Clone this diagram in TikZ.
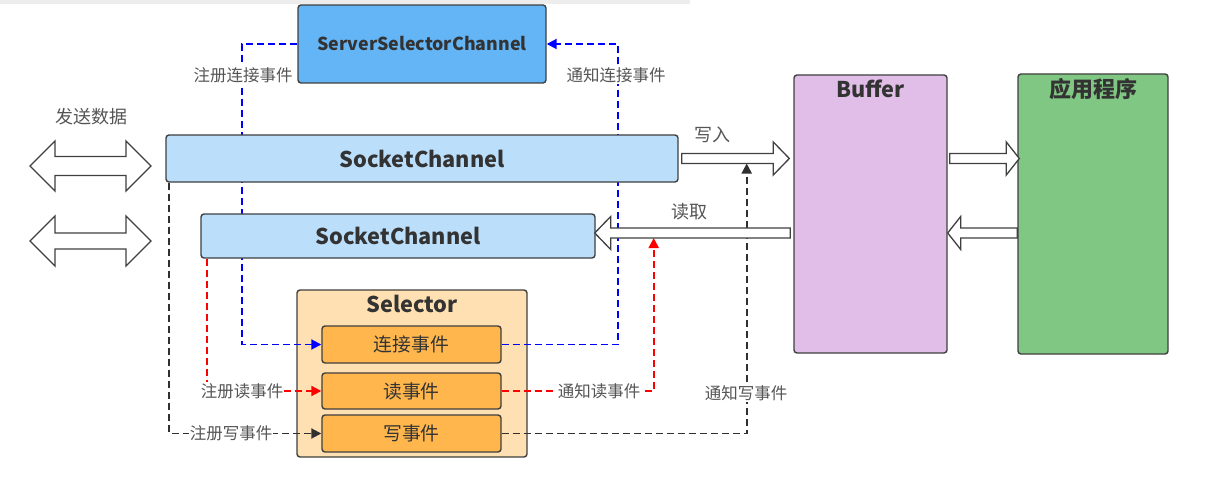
\documentclass[tikz,border=0pt]{standalone}
\usepackage{fontspec}
\setmainfont{Noto Sans CJK SC}
\usetikzlibrary{calc,arrows.meta,backgrounds}
\definecolor{edge}{HTML}{404040}
\definecolor{txt}{HTML}{333333}
\definecolor{lbl}{HTML}{555555}
\definecolor{sscfill}{HTML}{64B5F6}
\definecolor{scfill}{HTML}{BBDEFB}
\definecolor{selfill}{HTML}{FFE0B2}
\definecolor{evfill}{HTML}{FFB74D}
\definecolor{buffill}{HTML}{E1BEE7}
\definecolor{appfill}{HTML}{81C784}
\definecolor{dblue}{HTML}{0000FF}
\definecolor{dred}{HTML}{FF0000}
\definecolor{dblack}{HTML}{303030}
\tikzset{
  box/.style={draw=edge, line width=1.4pt, rounded corners=3pt, inner sep=0pt, text=txt},
  bigtxt/.style={font=\fontsize{21.7}{24}\selectfont\bfseries, text=txt},
  evtxt/.style={font=\fontsize{18.8}{21}\selectfont, text=txt},
  lab/.style={font=\fontsize{16.5}{19}\selectfont, text=lbl, fill=white, inner sep=1pt},
  labnf/.style={font=\fontsize{18}{21}\selectfont, text=lbl, inner sep=1pt},
  conn/.style={dashed, dash pattern=on 7pt off 4pt, line width=1.9pt, -{Triangle[length=10pt,width=10pt]}},
  blk/.style={draw=edge, fill=white, line width=1.3pt, line join=miter},
}
% #1 start, #2 tip, #3 signed head length, #4 shaft half width, #5 head half width
\newcommand\hblk[5]{%
  \draw[blk] ($(#1)+(0,-#4)$) -- ($(#2)+(#3,-#4)$) -- ($(#2)+(#3,-#5)$) -- (#2)
     -- ($(#2)+(#3,#5)$) -- ($(#2)+(#3,#4)$) -- ($(#1)+(0,#4)$) -- cycle;}
% double arrow: #1 center y, #2 shaft half width
\newcommand\dblarrow[2]{%
  \draw[blk] (30,#1) -- (55,#1-25) -- (55,#1-#2) -- (126,#1-#2) -- (126,#1-25) -- (151,#1)
     -- (126,#1+25) -- (126,#1+#2) -- (55,#1+#2) -- (55,#1+25) -- cycle;}
\begin{document}
\begin{tikzpicture}[x=1pt,y=-1pt]
\useasboundingbox (0,0) rectangle (1210,492);

% boxes
\node[box, fill=sscfill, minimum width=248pt, minimum height=78pt] (ssc) at (422,44) {};
\node[bigtxt, font=\fontsize{17.8}{21}\selectfont\bfseries] (ssct) at (ssc.center) {ServerSelectorChannel};
\node[box, fill=scfill, minimum width=512pt, minimum height=47pt] (sc1) at (422,158.5) {};
\node[bigtxt] (sc1t) at (sc1.center) {SocketChannel};
\node[box, fill=scfill, minimum width=394pt, minimum height=44pt] (sc2) at (398,236) {};
\node[bigtxt] (sc2t) at (sc2.center) {SocketChannel};
\node[box, fill=evfill, minimum width=179pt, minimum height=37pt] (ev1) at (411.5,344.5) {};
\node[evtxt] (ev1t) at (ev1.center) {连接事件};
\node[box, fill=evfill, minimum width=179pt, minimum height=36pt] (ev2) at (411.5,391) {};
\node[evtxt] (ev2t) at (ev2.center) {读事件};
\node[box, fill=evfill, minimum width=179pt, minimum height=37pt] (ev3) at (411.5,433.5) {};
\node[evtxt] (ev3t) at (ev3.center) {写事件};
\node[box, fill=buffill, minimum width=153pt, minimum height=278pt] (buf) at (870.5,214) {};
\node[bigtxt] (buft) at (870.5,89) {Buffer};
\node[box, fill=appfill, minimum width=150pt, minimum height=280pt] (app) at (1093,214) {};
\node[bigtxt, font=\fontsize{22}{25}\selectfont\bfseries] (appt) at (1093,89) {应用程序};

% background, selector container and dashed connectors (behind channel boxes)
\begin{scope}[on background layer]
\fill[white] (0,0) rectangle (1210,492);
\fill[black!7] (0,0) rectangle (690,4);
\node[box, fill=selfill, minimum width=230pt, minimum height=167pt] (sel) at (412,373.5) {};
\node[bigtxt] (selt) at (412,304) {Selector};
\draw[conn, dblue] (ssc.west) -- ++(-55,0) |- (ev1.west);
\draw[conn, dblue] (ev1.east) -| ($(ssc.east)+(71,0)$) -- (ssc.east);
\draw[conn, dred] ($(sc2.south west)+(7,0)$) |- (ev2.west);
\draw[conn, dred] (ev2.east) -| ($(sc2.east)+(58,2)$);
\draw[conn, dblack] ($(sc1.south west)+(4,0)$) |- (ev3.west);
\draw[conn, dblack] (ev3.east) -| ($(sc1.east)+(68,5)$);
\end{scope}

% block arrows
\coordinate (w0) at ($(sc1.east)+(3,0)$);
\coordinate (w1) at ($(buf.west |- sc1.east)+(-4,0)$);
\hblk{w0}{w1}{-16}{5}{16.5}
\coordinate (r0) at ($(buf.west |- sc2.east)+(-3,-3)$);
\coordinate (r1) at ($(sc2.east)+(-1,-3)$);
\hblk{r0}{r1}{16}{5}{16.5}
\coordinate (ba0) at ($(buf.east |- sc1.east)+(2,0)$);
\coordinate (ba1) at ($(app.west |- sc1.east)+(2,0)$);
\hblk{ba0}{ba1}{-13}{5}{16.5}
\coordinate (ab0) at ($(app.west |- sc2.east)+(0,-3)$);
\coordinate (ab1) at ($(buf.east |- sc2.east)+(0,-3)$);
\hblk{ab0}{ab1}{13}{5}{16.5}

\dblarrow{166}{9.5}
\dblarrow{241}{8}

% labels
\node[lab] (l1) at (243,75) {注册连接事件};
\node[lab] (l2) at (616,75) {通知连接事件};
\node[lab] (l3) at (242,391) {注册读事件};
\node[lab] (l4) at (599,391) {通知读事件};
\node[lab] (l5) at (231,433) {注册写事件};
\node[lab] (l6) at (746,393) {通知写事件};
\node[labnf] (l7) at (712,135) {写入};
\node[labnf] (l8) at (689,212) {读取};
\node[labnf] (l9) at (91,117) {发送数据};
\end{tikzpicture}
\end{document}
